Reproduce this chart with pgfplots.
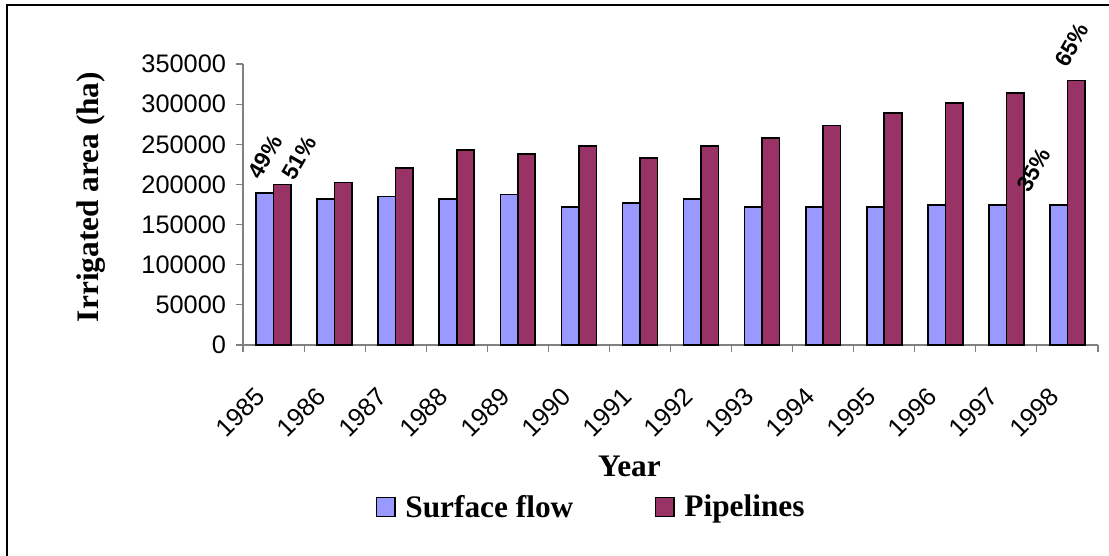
\documentclass[border=0pt]{standalone}
\usepackage{fontspec}
\setmainfont{Liberation Sans}
\newfontfamily\timesfont{Liberation Serif}
\usepackage{pgfplots}
\pgfplotsset{compat=1.18}
\definecolor{surf}{HTML}{9999FF}
\definecolor{pipe}{HTML}{993366}
\definecolor{axgrey}{HTML}{808080}
\begin{document}
\begin{tikzpicture}
\useasboundingbox (0,0) rectangle (831.75pt,417pt);
\draw[line width=0.8pt] (5.25pt,0) -- (5.25pt,413.25pt) -- (831.75pt,413.25pt);
\begin{axis}[
  at={(182.25pt,158.25pt)}, anchor=south west,
  scale only axis, width=641.25pt, height=210.75pt,
  ybar=0pt, bar width=13.1pt,
  xmin=-0.5, xmax=13.5, ymin=0, ymax=350000,
  axis x line=bottom, axis y line=left,
  axis line style={-, draw=axgrey, line width=0.8pt},
  tick align=outside,
  xtick={0,...,13},
  xticklabels={1985,1986,1987,1988,1989,1990,1991,1992,1993,1994,1995,1996,1997,1998},
  major x tick style={draw=none},
  minor xtick={-0.5,0.5,...,13.5},
  minor x tick style={draw=axgrey, line width=0.8pt},
  minor tick length=5.25pt,
  scaled y ticks=false,
  ytick={0,50000,100000,150000,200000,250000,300000,350000},
  yticklabels={0,50000,100000,150000,200000,250000,300000,350000},
  y tick style={draw=axgrey, line width=0.8pt},
  major tick length=5.25pt,
  tick label style={font=\fontsize{19}{19}\selectfont},
  xticklabel style={xshift=-14.5pt, yshift=-20.5pt, rotate=45, anchor=north east},
  yticklabel style={xshift=-4pt},
  xlabel={Year},
  ylabel={Irrigated area (ha)},
  label style={font=\timesfont\bfseries\fontsize{23.5}{23.5}\selectfont},
  xlabel style={at={(rel axis cs:0.452,-0.4306)}, anchor=center},
  ylabel style={at={(rel axis cs:-0.1778,0.5267)}, anchor=center},
  legend columns=2,
  legend style={at={(rel axis cs:0.4075,-0.5765)}, anchor=center, draw=none,
    font=\timesfont\bfseries\fontsize{23.5}{23.5}\selectfont,
    /tikz/every even column/.append style={column sep=59pt}},
  legend image code/.code={\draw[#1, line width=0.9pt] (0pt,-7pt) rectangle (14pt,7pt); \path (19.25pt,0pt);},
  clip=false,
]
\addplot[fill=surf, draw=black, line width=1.2pt] coordinates {
(0,189500) (1,182000) (2,184900) (3,182000) (4,187400) (5,172000) (6,177000)
(7,182000) (8,172000) (9,172000) (10,172000) (11,174600) (12,174600) (13,174600)};
\addplot[fill=pipe, draw=black, line width=1.2pt] coordinates {
(0,199900) (1,202400) (2,220200) (3,243100) (4,238100) (5,248100) (6,233200)
(7,248100) (8,258100) (9,273400) (10,288800) (11,301700) (12,314200) (13,329500)};
\legend{Surface flow, Pipelines}
\node[rotate=60, font=\bfseries\fontsize{17}{17}\selectfont] at (axis cs:-0.14,234160) {49\%};
\node[rotate=60, font=\bfseries\fontsize{17}{17}\selectfont] at (axis cs:0.417,232900) {51\%};
\node[rotate=60, font=\bfseries\fontsize{17}{17}\selectfont] at (axis cs:12.45,218000) {35\%};
\node[rotate=60, font=\bfseries\fontsize{17}{17}\selectfont] at (axis cs:13.07,373700) {65\%};
\end{axis}
\end{tikzpicture}
\end{document}
